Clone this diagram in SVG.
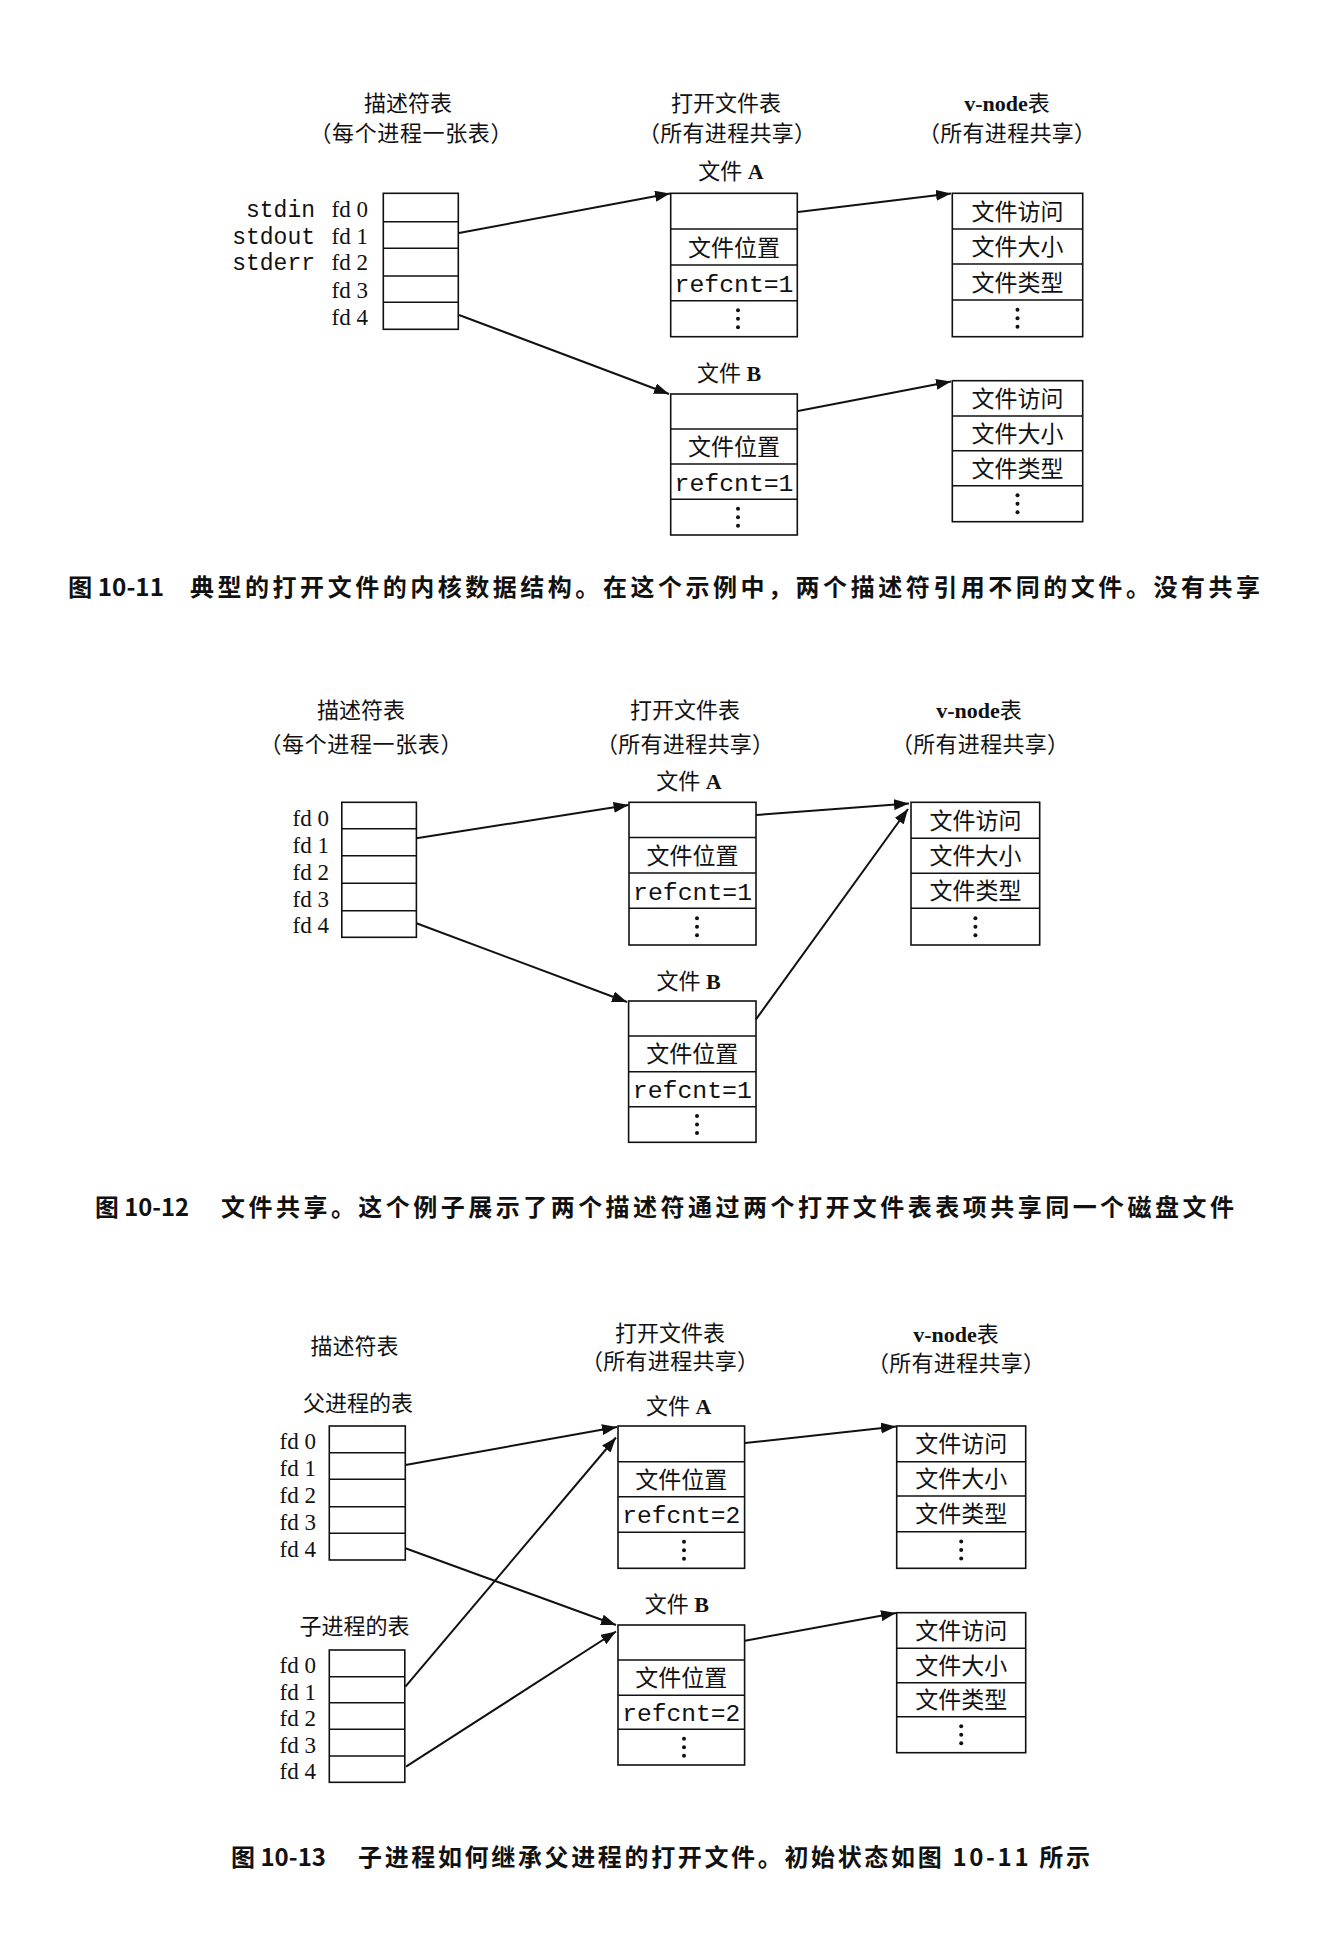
<svg xmlns="http://www.w3.org/2000/svg" xmlns:xlink="http://www.w3.org/1999/xlink" width="1344" height="1936" viewBox="0 0 1344 1936">
<style>
.box{fill:none;stroke:#111;stroke-width:1.6}
.row{stroke:#111;stroke-width:1.4}
.arr{stroke:#111;stroke-width:2;fill:none;marker-end:url(#ah)}
text{fill:#111}
.hd{font-family:"Noto Sans CJK SC",sans-serif;font-size:22px;text-anchor:middle}
.cj{font-family:"Noto Sans CJK SC",sans-serif;font-size:23px;text-anchor:middle}
.lat{font-family:"Liberation Serif","Noto Sans CJK SC",serif;font-size:22px;text-anchor:middle}
.mono{font-family:"Liberation Mono",monospace;font-size:24px;text-anchor:middle}
.fd{font-family:"Liberation Serif",serif;font-size:23px;text-anchor:end}
.std{font-family:"Liberation Mono",monospace;font-size:23px;text-anchor:end}
.cap{font-family:"Noto Sans CJK SC",sans-serif;font-size:24px;font-weight:bold}
.b{font-weight:bold}
</style>
<defs>
<marker id="ah" markerUnits="userSpaceOnUse" markerWidth="15" markerHeight="11" refX="15" refY="5.5" orient="auto">
<path d="M0,0 L15,5.5 L0,11 z" fill="#111"/>
</marker>
<g id="dots"><circle cx="0" cy="-8.5" r="2" fill="#111"/><circle cx="0" cy="0" r="2" fill="#111"/><circle cx="0" cy="8.5" r="2" fill="#111"/></g>
</defs>
<rect width="1344" height="1936" fill="#fff"/>

<!-- ================= Figure 10-11 ================= -->
<g id="fig1-headers">
<text class="hd" x="408" y="111">描述符表</text>
<text class="hd" x="411" y="141" textLength="203" lengthAdjust="spacing">（每个进程一张表）</text>
<text class="hd" x="726" y="111">打开文件表</text>
<text class="hd" x="727" y="141" textLength="178" lengthAdjust="spacing">（所有进程共享）</text>
<text class="lat" x="1007" y="111"><tspan class="b">v-node</tspan>表</text>
<text class="hd" x="1007" y="141" textLength="178" lengthAdjust="spacing">（所有进程共享）</text>
</g>
<g id="fig1-fdtable">
<rect class="box" x="383.3" y="193.3" width="75" height="136"/>
<line class="row" x1="383.3" y1="221.7" x2="458.3" y2="221.7"/>
<line class="row" x1="383.3" y1="248.3" x2="458.3" y2="248.3"/>
<line class="row" x1="383.3" y1="276" x2="458.3" y2="276"/>
<line class="row" x1="383.3" y1="302.3" x2="458.3" y2="302.3"/>
<text class="std" x="315" y="217">stdin</text>
<text class="std" x="315" y="243.5">stdout</text>
<text class="std" x="315" y="270">stderr</text>
<text class="fd" x="368" y="217">fd 0</text>
<text class="fd" x="368" y="243.5">fd 1</text>
<text class="fd" x="368" y="270">fd 2</text>
<text class="fd" x="368" y="297.5">fd 3</text>
<text class="fd" x="368" y="324.5">fd 4</text>
</g>
<g id="fig1-fileA">
<text class="lat" x="731" y="179">文件 <tspan class="b">A</tspan></text>
<rect class="box" x="670.7" y="193.3" width="126.6" height="143.4"/>
<line class="row" x1="670.7" y1="229" x2="797.3" y2="229"/>
<line class="row" x1="670.7" y1="265" x2="797.3" y2="265"/>
<line class="row" x1="670.7" y1="300.7" x2="797.3" y2="300.7"/>
<text class="cj" x="734" y="255.5">文件位置</text>
<text class="mono" x="734" y="291.5" textLength="119" lengthAdjust="spacingAndGlyphs">refcnt=1</text>
<use href="#dots" x="738" y="318.7"/>
</g>
<g id="fig1-fileB">
<text class="lat" x="729" y="380.5">文件 <tspan class="b">B</tspan></text>
<rect class="box" x="670.7" y="394" width="126.6" height="141"/>
<line class="row" x1="670.7" y1="429" x2="797.3" y2="429"/>
<line class="row" x1="670.7" y1="464" x2="797.3" y2="464"/>
<line class="row" x1="670.7" y1="499.3" x2="797.3" y2="499.3"/>
<text class="cj" x="734" y="455">文件位置</text>
<text class="mono" x="734" y="490.5" textLength="119" lengthAdjust="spacingAndGlyphs">refcnt=1</text>
<use href="#dots" x="738" y="517.2"/>
</g>
<g id="fig1-vnodeA">
<rect class="box" x="952.3" y="193.3" width="130.4" height="143.4"/>
<line class="row" x1="952.3" y1="229" x2="1082.7" y2="229"/>
<line class="row" x1="952.3" y1="264" x2="1082.7" y2="264"/>
<line class="row" x1="952.3" y1="300" x2="1082.7" y2="300"/>
<text class="cj" x="1017.5" y="219.5">文件访问</text>
<text class="cj" x="1017.5" y="255">文件大小</text>
<text class="cj" x="1017.5" y="290.5">文件类型</text>
<use href="#dots" x="1017.5" y="318.3"/>
</g>
<g id="fig1-vnodeB">
<rect class="box" x="952.3" y="380.7" width="130.4" height="141"/>
<line class="row" x1="952.3" y1="416" x2="1082.7" y2="416"/>
<line class="row" x1="952.3" y1="450.7" x2="1082.7" y2="450.7"/>
<line class="row" x1="952.3" y1="485.7" x2="1082.7" y2="485.7"/>
<text class="cj" x="1017.5" y="406.8">文件访问</text>
<text class="cj" x="1017.5" y="441.8">文件大小</text>
<text class="cj" x="1017.5" y="476.7">文件类型</text>
<use href="#dots" x="1017.5" y="503.7"/>
</g>
<g id="fig1-connectors">
<line class="arr" x1="459" y1="233" x2="670" y2="193.5"/>
<line class="arr" x1="459" y1="315" x2="669" y2="394"/>
<line class="arr" x1="798" y1="212" x2="951" y2="193.5"/>
<line class="arr" x1="798" y1="411" x2="951" y2="381.5"/>
</g>
<g id="caption1">
<text class="cap" x="68" y="596" textLength="96" lengthAdjust="spacingAndGlyphs">图 10-11</text>
<text class="cap" x="190" y="596" textLength="1070" lengthAdjust="spacing">典型的打开文件的内核数据结构。在这个示例中，两个描述符引用不同的文件。没有共享</text>
</g>

<!-- ================= Figure 10-12 ================= -->
<g id="fig2-headers">
<text class="hd" x="361" y="717.5">描述符表</text>
<text class="hd" x="361" y="751.5" textLength="203" lengthAdjust="spacing">（每个进程一张表）</text>
<text class="hd" x="685" y="717.5">打开文件表</text>
<text class="hd" x="685" y="751.5" textLength="178" lengthAdjust="spacing">（所有进程共享）</text>
<text class="lat" x="979" y="717.5"><tspan class="b">v-node</tspan>表</text>
<text class="hd" x="980" y="751.5" textLength="178" lengthAdjust="spacing">（所有进程共享）</text>
</g>
<g id="fig2-fdtable">
<rect class="box" x="341.8" y="802.3" width="74.6" height="135"/>
<line class="row" x1="341.8" y1="828.7" x2="416.4" y2="828.7"/>
<line class="row" x1="341.8" y1="855.7" x2="416.4" y2="855.7"/>
<line class="row" x1="341.8" y1="883.3" x2="416.4" y2="883.3"/>
<line class="row" x1="341.8" y1="910.7" x2="416.4" y2="910.7"/>
<text class="fd" x="329" y="825.5">fd 0</text>
<text class="fd" x="329" y="852.5">fd 1</text>
<text class="fd" x="329" y="879.5">fd 2</text>
<text class="fd" x="329" y="906.5">fd 3</text>
<text class="fd" x="329" y="933">fd 4</text>
</g>
<g id="fig2-fileA">
<text class="lat" x="689" y="789">文件 <tspan class="b">A</tspan></text>
<rect class="box" x="629" y="802.3" width="127" height="142.7"/>
<line class="row" x1="629" y1="837.5" x2="756" y2="837.5"/>
<line class="row" x1="629" y1="873" x2="756" y2="873"/>
<line class="row" x1="629" y1="908.3" x2="756" y2="908.3"/>
<text class="cj" x="692.5" y="863.8">文件位置</text>
<text class="mono" x="692.5" y="899.5" textLength="119" lengthAdjust="spacingAndGlyphs">refcnt=1</text>
<use href="#dots" x="697" y="926.7"/>
</g>
<g id="fig2-fileB">
<text class="lat" x="688.7" y="989">文件 <tspan class="b">B</tspan></text>
<rect class="box" x="628.6" y="1001" width="127.4" height="141.3"/>
<line class="row" x1="628.6" y1="1036" x2="756" y2="1036"/>
<line class="row" x1="628.6" y1="1071.7" x2="756" y2="1071.7"/>
<line class="row" x1="628.6" y1="1106.7" x2="756" y2="1106.7"/>
<text class="cj" x="692.3" y="1062.4">文件位置</text>
<text class="mono" x="692.3" y="1098" textLength="119" lengthAdjust="spacingAndGlyphs">refcnt=1</text>
<use href="#dots" x="697" y="1124.5"/>
</g>
<g id="fig2-vnode">
<rect class="box" x="911" y="802.3" width="128.7" height="142.7"/>
<line class="row" x1="911" y1="838.3" x2="1039.7" y2="838.3"/>
<line class="row" x1="911" y1="873.3" x2="1039.7" y2="873.3"/>
<line class="row" x1="911" y1="908.3" x2="1039.7" y2="908.3"/>
<text class="cj" x="975.4" y="828.8">文件访问</text>
<text class="cj" x="975.4" y="864.3">文件大小</text>
<text class="cj" x="975.4" y="899.3">文件类型</text>
<use href="#dots" x="975.4" y="926.7"/>
</g>
<g id="fig2-connectors">
<line class="arr" x1="416.4" y1="838.3" x2="628.6" y2="805"/>
<line class="arr" x1="416.4" y1="923.3" x2="627" y2="1002"/>
<line class="arr" x1="756" y1="815" x2="909" y2="803.5"/>
<line class="arr" x1="756" y1="1019.3" x2="908" y2="809"/>
</g>
<g id="caption2">
<text class="cap" x="95" y="1216" textLength="94" lengthAdjust="spacingAndGlyphs">图 10-12</text>
<text class="cap" x="221" y="1216" textLength="1013" lengthAdjust="spacing">文件共享。这个例子展示了两个描述符通过两个打开文件表表项共享同一个磁盘文件</text>
</g>

<!-- ================= Figure 10-13 ================= -->
<g id="fig3-headers">
<text class="hd" x="354.5" y="1354">描述符表</text>
<text class="hd" x="670" y="1340.5">打开文件表</text>
<text class="hd" x="670" y="1369" textLength="178" lengthAdjust="spacing">（所有进程共享）</text>
<text class="lat" x="956" y="1342"><tspan class="b">v-node</tspan>表</text>
<text class="hd" x="956" y="1370.5" textLength="178" lengthAdjust="spacing">（所有进程共享）</text>
</g>
<g id="fig3-parent">
<text class="hd" x="358" y="1410.5">父进程的表</text>
<rect class="box" x="329.3" y="1426" width="76" height="134"/>
<line class="row" x1="329.3" y1="1452.7" x2="405.3" y2="1452.7"/>
<line class="row" x1="329.3" y1="1479.3" x2="405.3" y2="1479.3"/>
<line class="row" x1="329.3" y1="1506.7" x2="405.3" y2="1506.7"/>
<line class="row" x1="329.3" y1="1533.3" x2="405.3" y2="1533.3"/>
<text class="fd" x="316" y="1448.5">fd 0</text>
<text class="fd" x="316" y="1475.5">fd 1</text>
<text class="fd" x="316" y="1502.5">fd 2</text>
<text class="fd" x="316" y="1529.5">fd 3</text>
<text class="fd" x="316" y="1556.5">fd 4</text>
</g>
<g id="fig3-child">
<text class="hd" x="354.5" y="1634">子进程的表</text>
<rect class="box" x="329.3" y="1650" width="75.5" height="132.3"/>
<line class="row" x1="329.3" y1="1676.7" x2="404.8" y2="1676.7"/>
<line class="row" x1="329.3" y1="1702.7" x2="404.8" y2="1702.7"/>
<line class="row" x1="329.3" y1="1729.3" x2="404.8" y2="1729.3"/>
<line class="row" x1="329.3" y1="1756" x2="404.8" y2="1756"/>
<text class="fd" x="316" y="1673">fd 0</text>
<text class="fd" x="316" y="1699.5">fd 1</text>
<text class="fd" x="316" y="1726">fd 2</text>
<text class="fd" x="316" y="1752.5">fd 3</text>
<text class="fd" x="316" y="1779">fd 4</text>
</g>
<g id="fig3-fileA">
<text class="lat" x="678.6" y="1414">文件 <tspan class="b">A</tspan></text>
<rect class="box" x="618" y="1426" width="126.6" height="142.3"/>
<line class="row" x1="618" y1="1461.7" x2="744.6" y2="1461.7"/>
<line class="row" x1="618" y1="1496.7" x2="744.6" y2="1496.7"/>
<line class="row" x1="618" y1="1532.3" x2="744.6" y2="1532.3"/>
<text class="cj" x="681.3" y="1487.7">文件位置</text>
<text class="mono" x="681.3" y="1523.3" textLength="118" lengthAdjust="spacingAndGlyphs">refcnt=2</text>
<use href="#dots" x="684" y="1550.3"/>
</g>
<g id="fig3-fileB">
<text class="lat" x="676.8" y="1612">文件 <tspan class="b">B</tspan></text>
<rect class="box" x="618" y="1625" width="126.6" height="140"/>
<line class="row" x1="618" y1="1660" x2="744.6" y2="1660"/>
<line class="row" x1="618" y1="1695.3" x2="744.6" y2="1695.3"/>
<line class="row" x1="618" y1="1729.3" x2="744.6" y2="1729.3"/>
<text class="cj" x="681.3" y="1686.2">文件位置</text>
<text class="mono" x="681.3" y="1721" textLength="118" lengthAdjust="spacingAndGlyphs">refcnt=2</text>
<use href="#dots" x="684" y="1747.2"/>
</g>
<g id="fig3-vnodeA">
<rect class="box" x="896.7" y="1426" width="129" height="142.3"/>
<line class="row" x1="896.7" y1="1461.7" x2="1025.7" y2="1461.7"/>
<line class="row" x1="896.7" y1="1496" x2="1025.7" y2="1496"/>
<line class="row" x1="896.7" y1="1531.7" x2="1025.7" y2="1531.7"/>
<text class="cj" x="961.2" y="1452.4">文件访问</text>
<text class="cj" x="961.2" y="1487.4">文件大小</text>
<text class="cj" x="961.2" y="1522.4">文件类型</text>
<use href="#dots" x="961.2" y="1550"/>
</g>
<g id="fig3-vnodeB">
<rect class="box" x="896.7" y="1612.7" width="129" height="140"/>
<line class="row" x1="896.7" y1="1648.3" x2="1025.7" y2="1648.3"/>
<line class="row" x1="896.7" y1="1682.7" x2="1025.7" y2="1682.7"/>
<line class="row" x1="896.7" y1="1716.7" x2="1025.7" y2="1716.7"/>
<text class="cj" x="961.2" y="1639">文件访问</text>
<text class="cj" x="961.2" y="1674">文件大小</text>
<text class="cj" x="961.2" y="1708.2">文件类型</text>
<use href="#dots" x="961.2" y="1734.7"/>
</g>
<g id="fig3-connectors">
<line class="arr" x1="405.4" y1="1465" x2="617" y2="1427"/>
<line class="arr" x1="405.4" y1="1686.7" x2="616" y2="1437.5"/>
<line class="arr" x1="405.4" y1="1548.3" x2="616" y2="1625"/>
<line class="arr" x1="406" y1="1766.7" x2="616" y2="1631.5"/>
<line class="arr" x1="745" y1="1443" x2="896" y2="1426.5"/>
<line class="arr" x1="745" y1="1640.7" x2="896" y2="1613"/>
</g>
<g id="caption3">
<text class="cap" x="231" y="1866" textLength="95" lengthAdjust="spacingAndGlyphs">图 10-13</text>
<text class="cap" x="358" y="1866" textLength="732" lengthAdjust="spacing">子进程如何继承父进程的打开文件。初始状态如图 10-11 所示</text>
</g>
</svg>
